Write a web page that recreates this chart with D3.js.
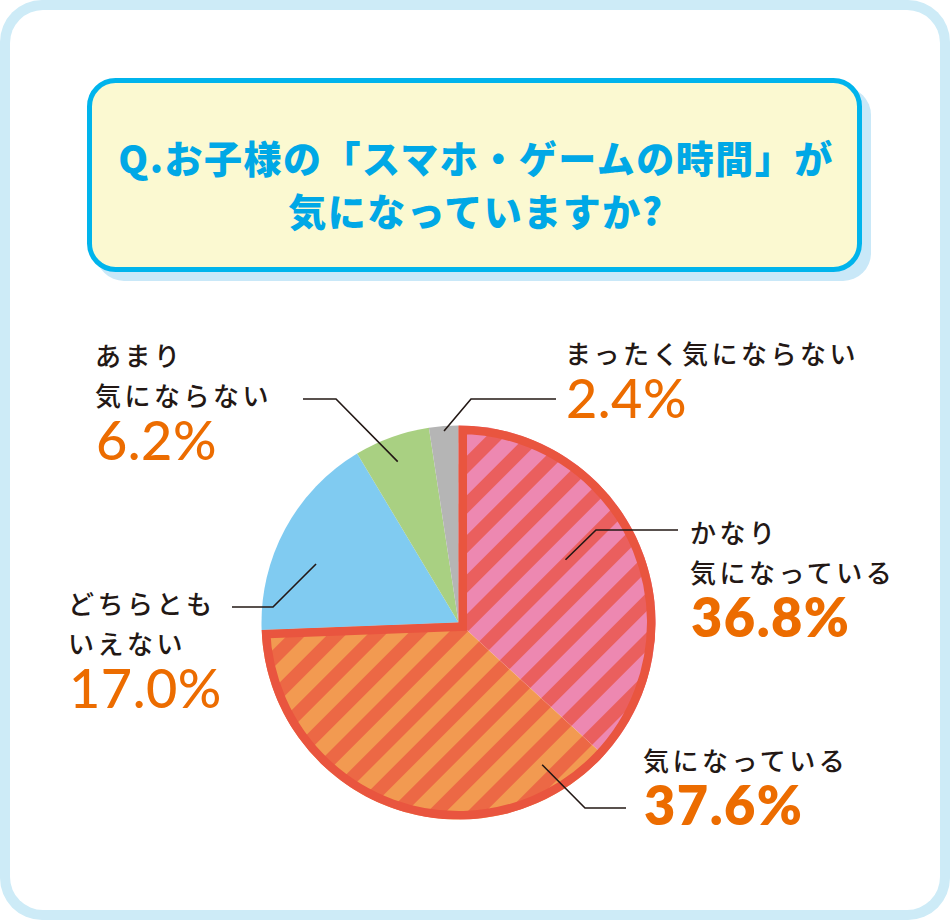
<!DOCTYPE html>
<html>
<head>
<meta charset="utf-8">
<script src="https://cdn.jsdelivr.net/npm/d3@7"></script>
<style>
  body { margin: 0; background: #fff; }
  svg { display: block; }
</style>
</head>
<body>
<svg id="chart"></svg>
<script>
// data
var categories = ["かなり気になっている", "気になっている", "どちらともいえない", "あまり気にならない", "まったく気にならない"];
var values = [36.8, 37.6, 17.0, 6.2, 2.4];
var labelLines = [["かなり", "気になっている"], ["気になっている"], ["どちらとも", "いえない"], ["あまり", "気にならない"], ["まったく気にならない"]];
var highlighted = [true, true, false, false, false];

var titleLines = ["Q.お子様の「スマホ・ゲームの時間」が", "気になっていますか?"];

var sliceColors = ["#ed88b1", "#f29a51", "#80cbf1", "#a9d082", "#b5b5b5"];
var stripeColors = ["#ea5f5e", "#ec6845"];

// label layout: text x, first baseline, leader (t along slice, radius, elbow, end)
var layout = [
  { x: 690, y: 543, lead: { t: 0.45, r: 124, elbow: [596, 530], end: [678, 530] } },
  { x: 643, y: 771, lead: { t: 0.126, r: 165, elbow: [585, 808], end: [626, 808] } },
  { x: 68, y: 614, lead: { t: 0.40, r: 154, elbow: [273, 607], end: [232, 607] } },
  { x: 95, y: 366, lead: { t: 0.46, r: 172, elbow: [336, 399], end: [303, 399] } },
  { x: 565, y: 364, lead: { t: 0.5, r: 192, elbow: [471, 399], end: [556, 399] } }
];

var W = 950, H = 920;
var cx = 458.5, cy = 622.5, R = 197;

var svg = d3.select("#chart").attr("width", W).attr("height", H);
var defs = svg.append("defs");

// outer frame
svg.append("rect").attr("x", 0).attr("y", 0).attr("width", W).attr("height", H)
  .attr("rx", 42).attr("fill", "#cdebf7");
svg.append("rect").attr("x", 10).attr("y", 10).attr("width", W - 20).attr("height", H - 20)
  .attr("rx", 33).attr("fill", "#fff");

// title box
svg.append("rect").attr("x", 96).attr("y", 87).attr("width", 775).attr("height", 194)
  .attr("rx", 28).attr("fill", "#c9e8f8");
svg.append("rect").attr("x", 89.5).attr("y", 80.5).attr("width", 770).attr("height", 189)
  .attr("rx", 26).attr("fill", "#fbf9d1").attr("stroke", "#00b4ec").attr("stroke-width", 5);

svg.selectAll(".title")
  .data(titleLines)
  .enter()
  .append("text")
  .attr("class", "title")
  .attr("x", 476)
  .attr("y", function (d, i) { return 173 + i * 53; })
  .attr("text-anchor", "middle")
  .style("font-family", "'Noto Sans CJK JP', sans-serif")
  .style("font-weight", 900)
  .style("font-size", "38px")
  .style("letter-spacing", "1.5px")
  .attr("fill", "#00a8e6")
  .text(function (d) { return d; });

// stripe patterns
stripeColors.forEach(function (c, i) {
  var p = defs.append("pattern")
    .attr("id", "stripe" + i)
    .attr("patternUnits", "userSpaceOnUse")
    .attr("width", 28).attr("height", 28)
    .attr("patternTransform", "rotate(45)");
  p.append("rect").attr("width", 28).attr("height", 28).attr("fill", sliceColors[i]);
  p.append("rect").attr("width", 13).attr("height", 28).attr("fill", c);
});

var pie = d3.pie().sort(null).value(function (d) { return d; });
var arcs = pie(values);
var arc = d3.arc().innerRadius(0).outerRadius(R);

var g = svg.append("g").attr("transform", "translate(" + cx + "," + cy + ")");

g.selectAll(".slice")
  .data(arcs)
  .enter()
  .append("path")
  .attr("class", "slice")
  .attr("d", arc)
  .attr("fill", function (d, i) { return i < 2 ? "url(#stripe" + i + ")" : sliceColors[i]; });

// red outline around the two "気になる" slices, drawn inside
var groupArc = { startAngle: arcs[0].startAngle, endAngle: arcs[1].endAngle };
defs.append("clipPath").attr("id", "groupClip")
  .append("path").attr("d", arc(groupArc));
g.append("path")
  .attr("d", arc(groupArc))
  .attr("fill", "none")
  .attr("stroke", "#e9553f")
  .attr("stroke-width", 17)
  .attr("stroke-linejoin", "miter")
  .attr("clip-path", "url(#groupClip)");

// leader lines
arcs.forEach(function (d, i) {
  var L = layout[i].lead;
  var a = d.startAngle + L.t * (d.endAngle - d.startAngle);
  var sx = cx + L.r * Math.sin(a), sy = cy - L.r * Math.cos(a);
  svg.append("path")
    .attr("d", d3.line()([[sx, sy], L.elbow, L.end]))
    .attr("fill", "none")
    .attr("stroke", "#231815")
    .attr("stroke-width", 1.6);
});

// labels
arcs.forEach(function (d, i) {
  var lay = layout[i];
  var t = svg.append("g");
  labelLines[i].forEach(function (line, j) {
    t.append("text")
      .attr("x", lay.x)
      .attr("y", lay.y + j * 40)
      .style("font-family", "'Noto Sans CJK JP', sans-serif")
      .style("font-weight", 500)
      .style("font-size", "26px")
      .style("letter-spacing", "3.5px")
      .attr("fill", "#231815")
      .text(line);
  });
  var n = labelLines[i].length;
  t.append("text")
    .attr("x", lay.x + 1)
    .attr("y", lay.y + (n - 1) * 40 + 54)
    .style("font-family", "Lato, sans-serif")
    .style("font-weight", highlighted[i] ? 800 : 500)
    .style("font-size", "54px")
    .style("letter-spacing", highlighted[i] ? "1.5px" : "0.5px")
    .attr("fill", "#ec6c00")
    .text(d3.format(".1f")(d.data) + "%");
});
</script>
</body>
</html>
